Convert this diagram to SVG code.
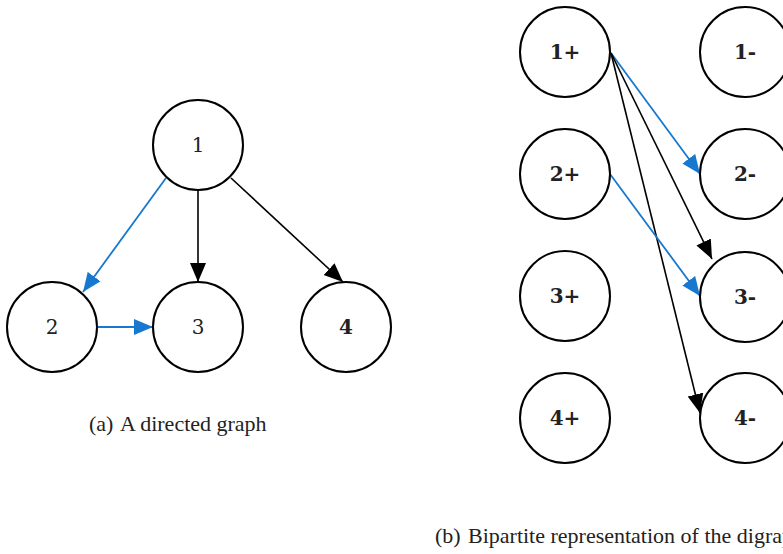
<svg xmlns="http://www.w3.org/2000/svg" width="783" height="554" viewBox="0 0 783 554">
<style>
.node{fill:#fff;stroke:#000;stroke-width:2}
.lbl{font-family:"DejaVu Serif","Liberation Serif",serif;font-size:20px;text-anchor:middle;dominant-baseline:central;fill:#222}
.b{font-weight:bold}
.e{fill:none;stroke:#000;stroke-width:1.6}
.eb{fill:none;stroke:#1778cf;stroke-width:1.8}
.cap{font-family:"Liberation Serif","DejaVu Serif",serif;font-size:22px;fill:#222}
</style>
<defs>
<marker id="ak" markerUnits="userSpaceOnUse" markerWidth="22" markerHeight="18" refX="19" refY="8" orient="auto" viewBox="0 0 22 16"><path d="M0,0 L19,8 L0,16 z" fill="#000"/></marker>
<marker id="ab" markerUnits="userSpaceOnUse" markerWidth="22" markerHeight="18" refX="19" refY="8" orient="auto" viewBox="0 0 22 16"><path d="M0,0 L19,8 L0,16 z" fill="#1778cf"/></marker>
</defs>
<g id="connectors">
<line class="eb" x1="166" y1="178" x2="83" y2="292" marker-end="url(#ab)"/>
<line class="e" x1="198" y1="190" x2="198" y2="282" marker-end="url(#ak)"/>
<line class="e" x1="231" y1="178" x2="343" y2="282" marker-end="url(#ak)"/>
<line class="eb" x1="97" y1="327" x2="153" y2="327" marker-end="url(#ab)"/>
<line class="eb" x1="611" y1="53" x2="700" y2="174" marker-end="url(#ab)"/>
<line class="e" x1="611" y1="53" x2="712" y2="259" marker-end="url(#ak)"/>
<line class="e" x1="611" y1="53" x2="700" y2="413" marker-end="url(#ak)"/>
<line class="eb" x1="610" y1="174" x2="700" y2="296" marker-end="url(#ab)"/>
</g>
<g id="n1"><circle class="node" cx="198" cy="145" r="45"/><text class="lbl" x="198" y="145">1</text></g>
<g id="n2"><circle class="node" cx="52" cy="327" r="45"/><text class="lbl" x="52" y="327">2</text></g>
<g id="n3"><circle class="node" cx="198" cy="327" r="45"/><text class="lbl" x="198" y="327">3</text></g>
<g id="n4"><circle class="node" cx="346" cy="327" r="45"/><text class="lbl b" x="346" y="327">4</text></g>
<g id="p1"><circle class="node" cx="565" cy="52" r="45"/><text class="lbl b" x="565" y="52">1+</text></g>
<g id="p2"><circle class="node" cx="565" cy="174" r="45"/><text class="lbl b" x="565" y="174">2+</text></g>
<g id="p3"><circle class="node" cx="565" cy="296" r="45"/><text class="lbl b" x="565" y="296">3+</text></g>
<g id="p4"><circle class="node" cx="565" cy="418" r="45"/><text class="lbl b" x="565" y="418">4+</text></g>
<g id="m1"><circle class="node" cx="745" cy="52" r="45"/><text class="lbl b" x="745" y="52">1-</text></g>
<g id="m2"><circle class="node" cx="745" cy="174" r="45"/><text class="lbl b" x="745" y="174">2-</text></g>
<g id="m3"><circle class="node" cx="745" cy="297" r="45"/><text class="lbl b" x="745" y="297">3-</text></g>
<g id="m4"><circle class="node" cx="745" cy="418" r="45"/><text class="lbl b" x="745" y="418">4-</text></g>
<text class="cap" y="431"><tspan x="89">(a)</tspan><tspan x="120">A directed graph</tspan></text>
<text class="cap" y="543"><tspan x="435">(b)</tspan><tspan x="468">Bipartite representation of the digraph</tspan></text>
</svg>
